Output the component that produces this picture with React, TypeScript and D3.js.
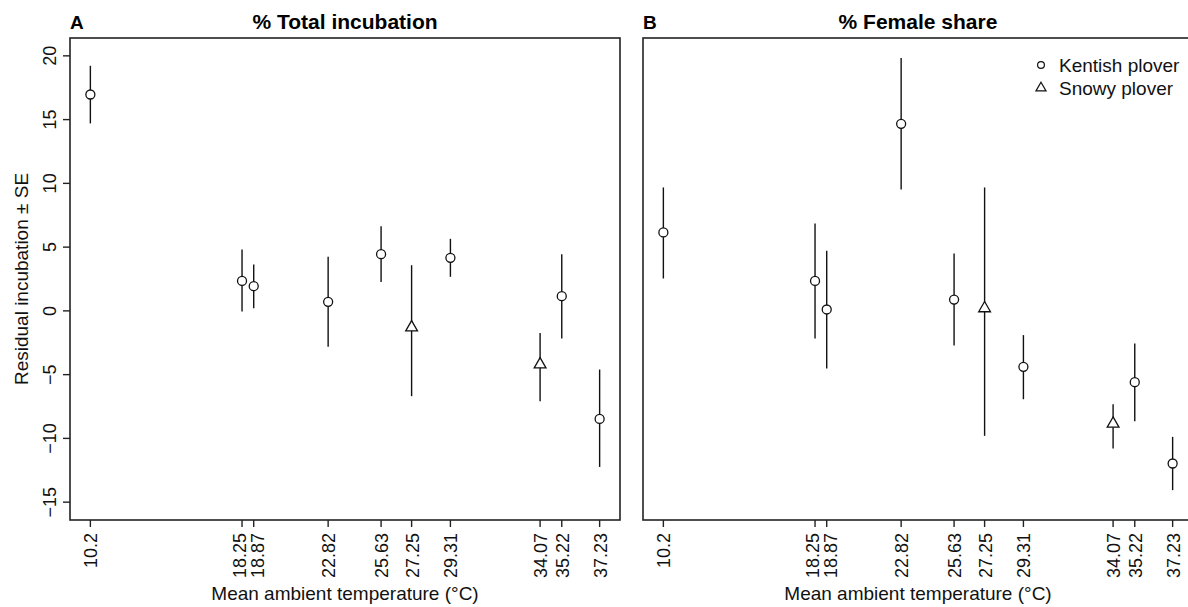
import React from "react";
import { scaleLinear, symbol, symbolTriangle } from "d3";

// mean ambient temperature per population (°C)
const temps = [10.2, 18.25, 18.87, 22.82, 25.63, 27.25, 29.31, 34.07, 35.22, 37.23];
const species = ["Kentish", "Kentish", "Kentish", "Kentish", "Kentish", "Snowy", "Kentish", "Snowy", "Kentish", "Kentish"];

// panel A: % total incubation (residual ± SE)
const totalMean = [16.97, 2.35, 1.94, 0.71, 4.45, -1.3, 4.16, -4.2, 1.15, -8.47];
const totalLo = [14.7, -0.05, 0.21, -2.82, 2.27, -6.69, 2.67, -7.08, -2.17, -12.24];
const totalHi = [19.22, 4.82, 3.64, 4.24, 6.64, 3.58, 5.65, -1.73, 4.45, -4.6];

// panel B: % female share (residual ± SE)
const femaleMean = [6.15, 2.35, 0.11, 14.67, 0.89, 0.2, -4.39, -8.85, -5.59, -11.97];
const femaleLo = [2.54, -2.17, -4.52, 9.52, -2.71, -9.8, -6.93, -10.79, -8.65, -14.06];
const femaleHi = [9.68, 6.85, 4.71, 19.84, 4.5, 9.68, -1.9, -7.32, -2.56, -9.88];

const yTicks = [-15, -10, -5, 0, 5, 10, 15, 20];
const legendItems = ["Kentish plover", "Snowy plover"];

const W = 1188,
  H = 607;
const top = 38,
  bottom = 520,
  panelW = 550;
const font = "'Liberation Sans', Arial, Helvetica, sans-serif";
const ink = "#222";

const x = scaleLinear().domain([9.119, 38.311]).range([0, panelW]);
const y = scaleLinear().domain([-16.4, 21.4]).range([bottom, top]);

const tri = symbol(symbolTriangle, 60)();
const triSmall = symbol(symbolTriangle, 44)();

// push apart tick labels that would touch (18.25 / 18.87)
function labelShift(i) {
  const px = x(temps[i]);
  if (i < temps.length - 1 && x(temps[i + 1]) - px < 15) return -3.5;
  if (i > 0 && px - x(temps[i - 1]) < 15) return 3.5;
  return 0;
}

function Panel({ left, letter, title, mean, lo, hi, showY }) {
  return (
    <g transform={`translate(${left},0)`}>
      <text x={0} y={29} fontFamily={font} fontWeight="bold" fontSize={19}>
        {letter}
      </text>
      <text x={panelW / 2} y={29} textAnchor="middle" fontFamily={font} fontWeight="bold" fontSize={21}>
        {title}
      </text>
      <rect x={0} y={top} width={panelW} height={bottom - top} fill="none" stroke={ink} strokeWidth={1.6} />

      {/* x axis */}
      {temps.map((t, i) => (
        <g key={t}>
          <line x1={x(t)} x2={x(t)} y1={bottom} y2={bottom + 7} stroke={ink} strokeWidth={1.4} />
          <text
            transform={`translate(${x(t) + 7 + labelShift(i)},533) rotate(-90)`}
            textAnchor="end"
            fontFamily={font}
            fontSize={18}
            fill="#111"
          >
            {t}
          </text>
        </g>
      ))}
      <text x={panelW / 2} y={600} textAnchor="middle" fontFamily={font} fontSize={19} fill="#111">
        Mean ambient temperature (°C)
      </text>

      {/* y axis */}
      {showY &&
        yTicks.map((v) => (
          <g key={v}>
            <line x1={-7} x2={0} y1={y(v)} y2={y(v)} stroke={ink} strokeWidth={1.4} />
            <text
              transform={`translate(-14,${y(v)}) rotate(-90)`}
              textAnchor="middle"
              fontFamily={font}
              fontSize={18}
              fill="#111"
            >
              {v < 0 ? "\u2212" + Math.abs(v) : v}
            </text>
          </g>
        ))}
      {showY && (
        <text
          transform={`translate(-42,${(top + bottom) / 2}) rotate(-90)`}
          textAnchor="middle"
          fontFamily={font}
          fontSize={19}
          fill="#111"
        >
          Residual incubation ± SE
        </text>
      )}

      {/* error bars and points */}
      {temps.map((t, i) => (
        <g key={"p" + t}>
          <line x1={x(t)} x2={x(t)} y1={y(lo[i])} y2={y(hi[i])} stroke="#111" strokeWidth={1.4} />
          {species[i] === "Kentish" ? (
            <circle cx={x(t)} cy={y(mean[i])} r={4.5} fill="white" stroke="#111" strokeWidth={1.3} />
          ) : (
            <path d={tri} transform={`translate(${x(t)},${y(mean[i])})`} fill="white" stroke="#111" strokeWidth={1.3} />
          )}
        </g>
      ))}
    </g>
  );
}

export default function App() {
  const legX = 1041;
  return (
    <svg
      width={W}
      height={H}
      style={{ position: "absolute", left: 0, top: 0, background: "white" }}
    >
      <rect width={W} height={H} fill="white" />
      <Panel left={70} letter="A" title="% Total incubation" mean={totalMean} lo={totalLo} hi={totalHi} showY={true} />
      <Panel left={643} letter="B" title="% Female share" mean={femaleMean} lo={femaleLo} hi={femaleHi} showY={false} />

      {/* legend */}
      {legendItems.map((name, i) => (
        <g key={name} transform={`translate(${legX},${65 + i * 23})`}>
          {i === 0 ? (
            <circle r={3.4} fill="white" stroke="#111" strokeWidth={1.2} />
          ) : (
            <path d={triSmall} fill="white" stroke="#111" strokeWidth={1.2} />
          )}
          <text x={18} y={7} fontFamily={font} fontSize={19} fill="#111">
            {name}
          </text>
        </g>
      ))}
    </svg>
  );
}
